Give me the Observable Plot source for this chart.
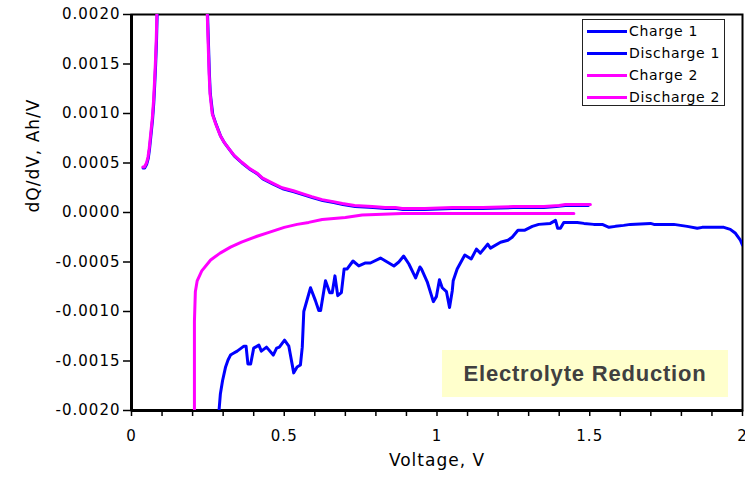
<!DOCTYPE html>
<html>
<head>
<meta charset="utf-8">
<script src="https://cdn.jsdelivr.net/npm/d3@7"></script>
<script src="https://cdn.jsdelivr.net/npm/@observablehq/plot@0.6"></script>
<style>
  html, body { margin: 0; padding: 0; background: #fff; }
  #wrap { position: relative; width: 745px; height: 480px; }
  #wrap svg text { letter-spacing: 1px; }
  #legend { position: absolute; left: 582px; top: 19px; width: 141px; height: 85px;
    border: 1px solid #222; background: #fff; font-family: "DejaVu Sans", Verdana, sans-serif;
    font-size: 14px; letter-spacing: 0.7px; color: #000; }
  #legend .row { position: absolute; left: 4px; height: 22px; line-height: 22px; white-space: nowrap; }
  #legend .sw { display: inline-block; width: 40px; height: 3px; vertical-align: middle; margin-right: 2px; position: relative; top: -1px; }
  #note { position: absolute; left: 442px; top: 350px; width: 286px; height: 47px; background: #FFFFCC;
    font-family: "Liberation Sans", Arial, sans-serif; font-weight: bold; font-size: 22px; letter-spacing: 0.8px; color: #404040;
    display: flex; align-items: center; justify-content: center; }
</style>
</head>
<body>
<div id="wrap"></div>
<script>
// Series: [voltage (V), dQ/dV (Ah/V)]
const charge1 = [
  [0.038,0.00045],[0.043,0.00045],[0.050,0.00049],[0.055,0.00055],[0.059,0.00064],[0.064,0.00079],[0.069,0.00094],
  [0.073,0.00111],[0.076,0.00129],[0.079,0.00149],[0.082,0.00174],[0.084,0.002],[0.086,0.0024],[0.087,0.003],
  [0.247,0.003],[0.249,0.002],[0.252,0.0017],[0.255,0.0014],[0.258,0.0012],[0.266,0.00099],[0.277,0.00089],
  [0.292,0.00077],[0.305,0.0007],[0.322,0.00063],[0.337,0.00057],[0.362,0.0005],[0.386,0.00044],[0.412,0.00039],
  [0.43,0.00034],[0.462,0.00029],[0.495,0.00024],[0.532,0.00021],[0.561,0.00018],[0.592,0.00015],[0.626,0.00012],
  [0.662,0.0001],[0.692,0.00008],[0.732,0.00006],[0.79,0.00005],[0.832,0.00004],[0.866,0.00004],[0.888,0.00003],
  [0.96,0.00003],[1.05,0.00004],[1.15,0.00004],[1.25,0.00005],[1.35,0.00005],[1.39,0.00006],[1.42,0.00007],[1.495,0.00007]
];
const discharge1 = [
  [0.284,-0.0025],[0.287,-0.00198],[0.291,-0.00183],[0.298,-0.0017],[0.308,-0.00156],[0.316,-0.00149],[0.324,-0.00144],
  [0.335,-0.00142],[0.346,-0.0014],[0.368,-0.00135],[0.375,-0.00135],[0.381,-0.00153],[0.39,-0.00153],[0.40,-0.00137],
  [0.417,-0.00134],[0.425,-0.0014],[0.442,-0.00136],[0.464,-0.00144],[0.475,-0.00137],[0.484,-0.00136],[0.501,-0.00129],
  [0.515,-0.00135],[0.531,-0.00162],[0.542,-0.00156],[0.553,-0.00154],[0.559,-0.00136],[0.564,-0.001],[0.586,-0.00076],
  [0.602,-0.00089],[0.613,-0.00099],[0.619,-0.00099],[0.635,-0.00069],[0.649,-0.00081],[0.657,-0.00081],[0.666,-0.00064],
  [0.675,-0.00084],[0.687,-0.00081],[0.696,-0.00057],[0.706,-0.00057],[0.725,-0.00049],[0.744,-0.00054],[0.766,-0.00051],
  [0.782,-0.00051],[0.815,-0.00046],[0.837,-0.0005],[0.859,-0.00054],[0.875,-0.0005],[0.891,-0.00044],[0.908,-0.00052],
  [0.93,-0.00066],[0.944,-0.00055],[0.949,-0.00057],[0.968,-0.0007],[0.988,-0.0009],[0.998,-0.00085],[1.008,-0.00068],
  [1.017,-0.00076],[1.031,-0.0008],[1.041,-0.00096],[1.05,-0.00079],[1.053,-0.00069],[1.066,-0.00057],[1.091,-0.00043],
  [1.112,-0.00047],[1.129,-0.00037],[1.142,-0.00041],[1.166,-0.00032],[1.175,-0.00036],[1.208,-0.0003],[1.232,-0.00028],
  [1.246,-0.00025],[1.265,-0.00018],[1.286,-0.00018],[1.312,-0.00014],[1.333,-0.00012],[1.371,-0.00011],[1.388,-0.00008],
  [1.395,-0.00016],[1.404,-0.00016],[1.415,-0.0001],[1.459,-0.0001],[1.481,-0.00011],[1.513,-0.00012],[1.541,-0.00012],
  [1.563,-0.00015],[1.584,-0.00014],[1.611,-0.00013],[1.633,-0.00012],[1.699,-0.00011],[1.71,-0.00012],[1.775,-0.00012],
  [1.819,-0.00014],[1.852,-0.00016],[1.868,-0.00015],[1.939,-0.00015],[1.96,-0.00017],[1.977,-0.00021],[1.993,-0.00028],
  [2.0,-0.00033]
];
const charge2 = [
  [0.037,0.00046],[0.042,0.00046],[0.049,0.0005],[0.054,0.00056],[0.058,0.00065],[0.063,0.0008],[0.068,0.00095],
  [0.072,0.00112],[0.075,0.0013],[0.078,0.0015],[0.081,0.00175],[0.083,0.002],[0.085,0.0024],[0.086,0.003],
  [0.246,0.003],[0.248,0.002],[0.251,0.0017],[0.254,0.0014],[0.257,0.0012],[0.264,0.001],[0.275,0.0009],
  [0.29,0.00078],[0.303,0.00071],[0.32,0.00064],[0.335,0.00058],[0.36,0.00051],[0.384,0.00045],[0.41,0.0004],
  [0.428,0.00035],[0.46,0.0003],[0.493,0.00025],[0.53,0.00022],[0.559,0.00019],[0.59,0.00016],[0.624,0.00013],
  [0.66,0.00011],[0.69,0.00009],[0.73,0.00007],[0.788,0.00006],[0.83,0.00005],[0.864,0.00005],[0.886,0.00004],
  [0.96,0.00004],[1.05,0.00005],[1.15,0.00005],[1.25,0.00006],[1.35,0.00006],[1.4,0.00007],[1.42,0.00008],[1.502,0.00008]
];
const discharge2 = [
  [0.206,-0.0025],[0.206,-0.0011],[0.209,-0.0008],[0.215,-0.00069],[0.23,-0.00059],[0.259,-0.00048],[0.29,-0.00041],
  [0.324,-0.00035],[0.36,-0.0003],[0.411,-0.00024],[0.45,-0.0002],[0.5,-0.00015],[0.542,-0.00012],[0.58,-0.0001],
  [0.624,-0.00007],[0.7,-0.00005],[0.755,-0.000025],[0.8,-0.00002],[0.886,-0.00001],[1.0,-0.00001],[1.2,-0.00001],[1.448,-0.00001]
];
const seriesNames = ["Charge 1", "Discharge 1", "Charge 2", "Discharge 2"];
const seriesColors = ["#0000FF", "#0000FF", "#FF00FF", "#FF00FF"];
const xTicks = [0, 0.5, 1, 1.5, 2];
const xMinorTicks = [0,0.1,0.2,0.3,0.4,0.5,0.6,0.7,0.8,0.9,1,1.1,1.2,1.3,1.4,1.5,1.6,1.7,1.8,1.9,2];
const yTicks = [-0.002, -0.0015, -0.001, -0.0005, 0, 0.0005, 0.001, 0.0015, 0.002];
const xTitle = "Voltage, V";
const yTitle = "dQ/dV, Ah/V";
const noteText = "Electrolyte Reduction";

const lineOpts = (color) => ({x: d => d[0], y: d => d[1], stroke: color, strokeWidth: 3, clip: true});

const chart = Plot.plot({
  width: 745, height: 480,
  marginLeft: 131, marginRight: 3, marginTop: 14, marginBottom: 70,
  style: {fontFamily: "DejaVu Sans, Verdana, sans-serif", fontSize: "15px", color: "#000", background: "#fff"},
  x: {domain: [0, 2]},
  y: {domain: [-0.002, 0.002]},
  marks: [
    Plot.axisX({ticks: xMinorTicks, tickSize: 6, tickFormat: () => "", strokeWidth: 1.5, label: null}),
    Plot.axisX({ticks: xTicks, tickSize: 0, tickPadding: 20, tickFormat: d => String(d), label: null, fontSize: 15}),
    Plot.axisY({ticks: yTicks, tickSize: 8, tickPadding: 3, strokeWidth: 1.5, tickFormat: d => d.toFixed(4), label: null, fontSize: 15}),
    Plot.frame({stroke: "#000", strokeWidth: 2}),
    Plot.ruleX([0], {stroke: "#000", strokeWidth: 3}),
    Plot.ruleY([-0.002], {stroke: "#000", strokeWidth: 3}),
    Plot.line(charge1, lineOpts(seriesColors[0])),
    Plot.line(discharge1, lineOpts(seriesColors[1])),
    Plot.line(charge2, lineOpts(seriesColors[2])),
    Plot.line(discharge2, lineOpts(seriesColors[3])),
    Plot.text([xTitle], {frameAnchor: "bottom", dy: 55, fontSize: 17, fill: "#000"}),
    Plot.text([yTitle], {frameAnchor: "left", dx: -98, rotate: -90, fontSize: 17, fill: "#000"})
  ]
});
const wrap = document.getElementById("wrap");
wrap.appendChild(chart);

const legend = document.createElement("div");
legend.id = "legend";
seriesNames.forEach((name, i) => {
  const row = document.createElement("div");
  row.className = "row";
  row.style.top = (i * 22 + 0) + "px";
  const sw = document.createElement("span");
  sw.className = "sw";
  sw.style.background = seriesColors[i];
  row.appendChild(sw);
  row.appendChild(document.createTextNode(name));
  legend.appendChild(row);
});
wrap.appendChild(legend);

const note = document.createElement("div");
note.id = "note";
note.textContent = noteText;
wrap.appendChild(note);
</script>
</body>
</html>
